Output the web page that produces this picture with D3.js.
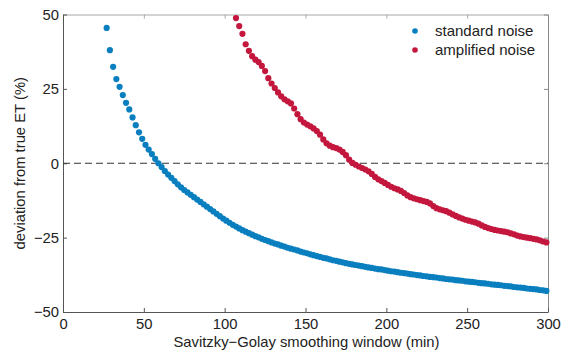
<!DOCTYPE html>
<html>
<head>
<meta charset="utf-8">
<script src="https://cdn.jsdelivr.net/npm/d3@7"></script>
<style>
  html, body { margin: 0; padding: 0; background: #fff; }
  svg { display: block; font-family: "Liberation Sans", Arial, Helvetica, sans-serif; }
</style>
</head>
<body>
<svg id="chart" width="562" height="351"></svg>
<script>
// Data: deviation (%) vs Savitzky-Golay window (min), odd windows, step 2
const windowStep = 2;
const standardStart = 27;
const standardNoise = [
  45.5, 38.0, 32.4, 28.3, 25.7, 22.9, 20.3, 18.1, 15.4, 12.8,
  10.4, 8.2, 6.2, 4.6, 3.1, 1.5, 0.0, -1.3, -2.6, -3.8,
  -4.9, -6.0, -7.1, -8.1, -9.0, -9.8, -10.6, -11.4, -12.2, -13.0,
  -13.8, -14.6, -15.4, -16.2, -17.0, -17.8, -18.6, -19.3, -20.0, -20.7,
  -21.3, -21.9, -22.5, -23.0, -23.5, -24.0, -24.5, -24.9, -25.4, -25.8,
  -26.2, -26.6, -27.0, -27.3, -27.7, -28.0, -28.4, -28.7, -29.0, -29.3,
  -29.7, -30.0, -30.3, -30.6, -30.9, -31.2, -31.5, -31.8, -32.0, -32.3,
  -32.6, -32.8, -33.1, -33.3, -33.6, -33.8, -34.0, -34.2, -34.4, -34.6,
  -34.8, -35.0, -35.2, -35.4, -35.6, -35.7, -35.9, -36.1, -36.3, -36.4,
  -36.6, -36.8, -36.9, -37.1, -37.3, -37.4, -37.6, -37.7, -37.9, -38.0,
  -38.2, -38.3, -38.4, -38.6, -38.7, -38.9, -39.0, -39.1, -39.3, -39.4,
  -39.5, -39.7, -39.8, -39.9, -40.0, -40.2, -40.3, -40.4, -40.5, -40.7,
  -40.8, -40.9, -41.0, -41.2, -41.3, -41.4, -41.6, -41.7, -41.8, -41.9,
  -42.1, -42.2, -42.3, -42.4, -42.6, -42.7, -42.9
];
const amplifiedStart = 107;
const amplifiedNoise = [
  48.8, 46.1, 43.5, 40.0, 37.8, 36.0, 34.8, 34.0, 32.7, 31.0,
  28.6, 26.8, 25.3, 23.8, 22.5, 21.5, 20.8, 20.1, 18.4, 16.5,
  14.8, 13.7, 13.0, 12.4, 11.7, 10.8, 9.6, 8.0, 6.7, 5.9,
  5.4, 5.1, 4.6, 3.8, 2.7, 1.2, 0.1, -0.5, -1.1, -1.6,
  -2.1, -2.7, -3.6, -4.6, -5.4, -6.0, -6.6, -7.3, -7.9, -8.4,
  -8.8, -9.3, -10.0, -10.8, -11.4, -11.8, -12.1, -12.4, -12.7, -13.0,
  -13.5, -14.4, -15.1, -15.5, -15.8, -16.1, -16.6, -17.2, -17.7, -18.2,
  -18.6, -19.0, -19.3, -19.6, -19.9, -20.3, -20.9, -21.4, -21.8, -22.1,
  -22.4, -22.6, -22.8, -23.0, -23.2, -23.6, -23.9, -24.3, -24.6, -24.8,
  -25.0, -25.2, -25.4, -25.6, -25.9, -26.3, -26.6
];
const xTicks = [0, 50, 100, 150, 200, 250, 300];
const yTicks = [-50, -25, 0, 25, 50];
const seriesNames = ["standard noise", "amplified noise"];
const seriesColors = ["#0a7fbf", "#c4173d"];

const width = 562, height = 351;
const margins = { top: 14.5, right: 14, bottom: 39, left: 63 };
const translate = (x, y) => `translate(${x}, ${y})`;
const fmt = d => d < 0 ? "\u2212" + Math.abs(d) : String(d);

const svg = d3.select("#chart");

const x = d3.scaleLinear().domain([0, 300]).range([margins.left, width - margins.right]);
const y = d3.scaleLinear().domain([-50, 50]).range([height - margins.bottom, margins.top]);

// box: top / right (light, no labels)
svg.append("g")
  .attr("transform", translate(0, margins.top))
  .call(d3.axisTop(x).tickValues(xTicks).tickSizeInner(-4).tickSizeOuter(0).tickFormat(""))
  .call(g => g.selectAll("path, line").attr("stroke", "#a8a8a8"));
svg.append("g")
  .attr("transform", translate(width - margins.right, 0))
  .call(d3.axisRight(y).tickValues(yTicks).tickSizeInner(-4).tickSizeOuter(0).tickFormat(""))
  .call(g => g.selectAll("path, line").attr("stroke", "#8a8a8a"));

// bottom / left
svg.append("g")
  .attr("transform", translate(0, height - margins.bottom))
  .call(d3.axisBottom(x).tickValues(xTicks).tickSizeInner(-4).tickSizeOuter(0).tickPadding(6).tickFormat(fmt))
  .call(g => g.selectAll("path, line").attr("stroke", "#555"))
  .call(g => g.selectAll("text").attr("font-size", 14.8).attr("fill", "#222").attr("font-family", null));
svg.append("g")
  .attr("transform", translate(margins.left, 0))
  .call(d3.axisLeft(y).tickValues(yTicks).tickSizeInner(-4).tickSizeOuter(0).tickPadding(4).tickFormat(fmt))
  .call(g => g.selectAll("path, line").attr("stroke", "#555"))
  .call(g => g.selectAll("text").attr("font-size", 14.8).attr("fill", "#222").attr("font-family", null));

// zero reference
svg.append("line")
  .attr("x1", x(0)).attr("x2", x(300))
  .attr("y1", y(0)).attr("y2", y(0))
  .attr("stroke", "#333")
  .attr("stroke-width", 1)
  .attr("stroke-dasharray", "7,4");

// series
const series = [
  { name: seriesNames[0], color: seriesColors[0], start: standardStart, values: standardNoise },
  { name: seriesNames[1], color: seriesColors[1], start: amplifiedStart, values: amplifiedNoise }
];
series.forEach(s => {
  svg.append("g")
    .selectAll("circle")
    .data(s.values)
    .join("circle")
    .attr("cx", (d, i) => x(s.start + i * windowStep))
    .attr("cy", d => y(d))
    .attr("r", 3.1)
    .attr("fill", s.color);
});

// legend
const legend = svg.append("g").attr("transform", translate(415, 31));
series.forEach((s, i) => {
  legend.append("circle")
    .attr("cx", 0).attr("cy", i * 19)
    .attr("r", 2.8)
    .attr("fill", s.color);
  legend.append("text")
    .attr("x", 20).attr("y", i * 19)
    .attr("dy", "0.35em")
    .attr("font-size", 15)
    .attr("fill", "#222")
    .text(s.name);
});

// axis titles
svg.append("text")
  .attr("x", (x(0) + x(300)) / 2 + 1)
  .attr("y", 347)
  .attr("text-anchor", "middle")
  .attr("font-size", 14.8)
  .attr("fill", "#222")
  .text("Savitzky\u2212Golay smoothing window (min)");
svg.append("text")
  .attr("transform", translate(25, (y(-50) + y(50)) / 2) + " rotate(-90)")
  .attr("text-anchor", "middle")
  .attr("font-size", 14.8)
  .attr("fill", "#222")
  .text("deviation from true ET (%)");
</script>
</body>
</html>
